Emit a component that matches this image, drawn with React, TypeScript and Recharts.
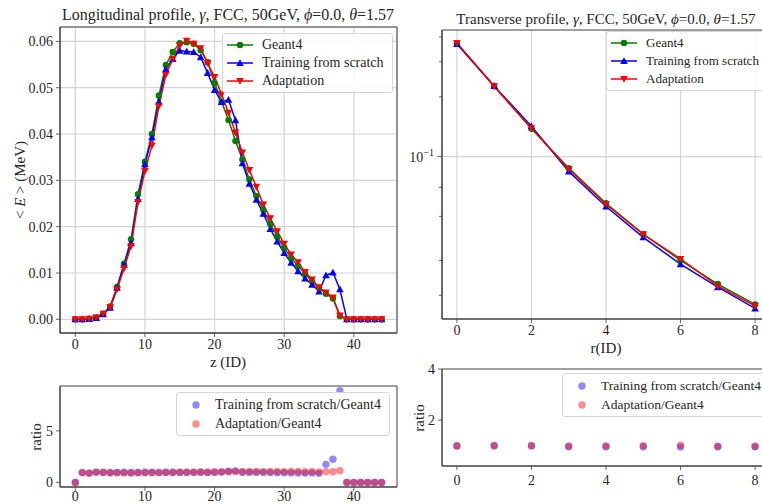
import React from 'react';
import { ComposedChart, Line, Scatter, XAxis, YAxis, CartesianGrid, Legend, ReferenceArea, ReferenceLine } from 'recharts';

const FONT = '"Liberation Serif", "DejaVu Serif", serif';
const INK = '#262626';
const SPINE = '#404040';
const GRID = '#d4d4d4';

// longitudinal profile, z bins 0..44
const zBins = Array.from({ length: 45 }, (_, i) => i);
const g4Long = [0, 0, 0.0001, 0.0004, 0.0012, 0.0028, 0.007, 0.012, 0.0173, 0.027, 0.034, 0.04, 0.0483, 0.0549, 0.0577, 0.0596, 0.0598, 0.0595, 0.0581, 0.0555, 0.051, 0.047, 0.043, 0.0385, 0.0345, 0.0302, 0.0266, 0.0236, 0.0206, 0.0179, 0.0155, 0.0132, 0.0115, 0.0098, 0.0082, 0.0068, 0.0055, 0.0045, 0.0007, 0, 0, 0, 0, 0, 0];
const scratchLong = [0, 0, 0.0001, 0.0003, 0.0011, 0.0025, 0.0068, 0.0118, 0.0165, 0.026, 0.0335, 0.0393, 0.047, 0.054, 0.0562, 0.058, 0.0578, 0.0577, 0.0566, 0.0532, 0.0495, 0.0469, 0.0474, 0.043, 0.0337, 0.0293, 0.0258, 0.0228, 0.0195, 0.0168, 0.0143, 0.0122, 0.0104, 0.0088, 0.0075, 0.006, 0.0095, 0.0101, 0.0065, 0, 0, 0, 0, 0, 0];
const adaptLong = [0, 0, 0.0001, 0.0004, 0.0012, 0.0026, 0.0065, 0.011, 0.0158, 0.0253, 0.032, 0.0375, 0.046, 0.0528, 0.0562, 0.0591, 0.0601, 0.0595, 0.0585, 0.0553, 0.0523, 0.0486, 0.0446, 0.0403, 0.036, 0.0322, 0.0286, 0.0248, 0.0218, 0.019, 0.0163, 0.014, 0.0123, 0.0102, 0.0086, 0.0069, 0.0058, 0.0047, 0.0008, 0, 0, 0, 0, 0, 0];
const scratchLongRatio = [0, 0.95, 0.9, 1.0, 0.97, 0.95, 0.97, 0.98, 0.96, 0.97, 0.98, 0.98, 0.97, 0.98, 0.98, 0.97, 0.97, 0.97, 0.98, 0.96, 0.97, 1.0, 1.08, 1.12, 0.98, 0.97, 0.97, 0.97, 0.95, 0.94, 0.93, 0.92, 0.91, 0.9, 0.92, 0.88, 1.75, 2.25, 8.9, 0, 0, 0, 0, 0, 0];
const adaptLongRatio = [0, 0.95, 0.9, 1.0, 1.0, 0.93, 0.93, 0.92, 0.91, 0.94, 0.94, 0.94, 0.95, 0.96, 0.97, 0.99, 1.0, 1.0, 1.01, 1.0, 1.03, 1.03, 1.04, 1.05, 1.04, 1.07, 1.07, 1.05, 1.06, 1.06, 1.05, 1.06, 1.07, 1.04, 1.05, 1.01, 1.05, 1.04, 1.14, 0, 0, 0, 0, 0, 0];

// transverse profile, r bins 0..8
const rBins = [0, 1, 2, 3, 4, 5, 6, 7, 8];
const g4Trans = [0.372, 0.226, 0.138, 0.0875, 0.0582, 0.0407, 0.03, 0.0228, 0.018];
const scratchTrans = [0.369, 0.227, 0.142, 0.0842, 0.056, 0.0392, 0.0287, 0.022, 0.0172];
const adaptTrans = [0.373, 0.226, 0.139, 0.0866, 0.0575, 0.0406, 0.0305, 0.0223, 0.0177];
const scratchTransRatio = [0.99, 1.0, 1.0, 0.96, 0.96, 0.96, 0.95, 0.96, 0.96];
const adaptTransRatio = [1.0, 1.0, 1.0, 0.99, 0.99, 1.0, 1.02, 0.98, 0.98];

const zTicks = [0, 10, 20, 30, 40];
const eTicks = [0, 0.01, 0.02, 0.03, 0.04, 0.05, 0.06];
const zRatioTicks = [0, 5];
const rTicks = [0, 2, 4, 6, 8];
const logTicks = [0.02, 0.03, 0.04, 0.05, 0.06, 0.07, 0.08, 0.09, 0.1, 0.2, 0.3, 0.4];
const rRatioTicks = [2, 4];

const longData = zBins.map((z, i) => ({
  z, g4: g4Long[i], scratch: scratchLong[i], adapt: adaptLong[i],
  scratchRatio: scratchLongRatio[i], adaptRatio: adaptLongRatio[i],
}));
const transData = rBins.map((r, i) => ({
  r, g4: g4Trans[i], scratch: scratchTrans[i], adapt: adaptTrans[i],
  scratchRatio: scratchTransRatio[i], adaptRatio: adaptTransRatio[i],
}));

type Kind = 'circle' | 'up' | 'down';
const kinds: Record<string, Kind> = { g4: 'circle', scratch: 'up', adapt: 'down' };
// legend rows keep the plotting order
const legendOrder = ['g4', 'scratch', 'adapt', 'scratchRatio', 'adaptRatio'];
const ordered = (payload: any[] = []) =>
  [...payload].sort((a, b) => legendOrder.indexOf(a.dataKey) - legendOrder.indexOf(b.dataKey));

const shape = (kind: Kind, cx: number, cy: number, color: string, key?: any) => {
  if (kind === 'circle') return <circle key={key} cx={cx} cy={cy} r={3.2} fill={color} />;
  const s = 3.8;
  const pts = kind === 'up'
    ? `${cx},${cy - s} ${cx - s},${cy + s * 0.8} ${cx + s},${cy + s * 0.8}`
    : `${cx},${cy + s} ${cx - s},${cy - s * 0.8} ${cx + s},${cy - s * 0.8}`;
  return <polygon key={key} points={pts} fill={color} />;
};

const marker = (kind: Kind, color: string) => (props: any) => {
  const { cx, cy, index } = props;
  if (cx == null || cy == null) return <g key={index} />;
  return shape(kind, cx, cy, color, index);
};

const dotShape = (color: string) => (props: any) =>
  <circle cx={props.cx} cy={props.cy} r={3.7} fill={color} fillOpacity={0.45} />;

const boxStyle = (size: number): React.CSSProperties => ({
  border: '1px solid #d6d6d6', borderRadius: 3, background: 'rgba(255,255,255,0.85)',
  fontFamily: FONT, fontSize: size, color: INK, whiteSpace: 'nowrap',
});

const LineLegend = ({ payload, size = 14 }: any) => (
  <div style={{ ...boxStyle(size), padding: '2px 8px 2px 4px' }}>
    {ordered(payload).map((p: any) => (
      <div key={p.value} style={{ display: 'flex', alignItems: 'center', height: 18 }}>
        <svg width={26} height={10}>
          <line x1={0} x2={26} y1={5} y2={5} stroke={p.color} strokeWidth={1.5} />
          {shape(kinds[p.dataKey], 13, 5, p.color)}
        </svg>
        <span style={{ marginLeft: 9 }}>{p.value}</span>
      </div>
    ))}
  </div>
);

const DotLegend = ({ payload, size = 14 }: any) => (
  <div style={{ ...boxStyle(size), padding: '2px 8px 2px 14px' }}>
    {ordered(payload).map((p: any) => (
      <div key={p.value} style={{ display: 'flex', alignItems: 'center', height: 19 }}>
        <svg width={10} height={10}>
          <circle cx={5} cy={5} r={3.7} fill={p.color} fillOpacity={0.45} />
        </svg>
        <span style={{ marginLeft: 14 }}>{p.value}</span>
      </div>
    ))}
  </div>
);

const LogTick = (props: any) => {
  const { x, y, payload } = props;
  const major = payload.value === 0.1;
  return (
    <g>
      <line x1={x} x2={x - (major ? 5 : 3)} y1={y} y2={y} stroke={SPINE} strokeWidth={0.8} />
      {major && (
        <text x={x - 8} y={y + 5} textAnchor="end" fontFamily={FONT} fontSize={14} fill={INK}>
          10<tspan dy={-6} fontSize={10}>−1</tspan>
        </text>
      )}
    </g>
  );
};

const tickStyle = { fontFamily: FONT, fontSize: 14, fill: INK };
const axisLine = { stroke: SPINE, strokeWidth: 1 };
const tickLine = { stroke: SPINE, strokeWidth: 0.8 };

const abs = (left: number, top: number): React.CSSProperties => ({ position: 'absolute', left, top });
const text = (left: number, top: number, size: number): React.CSSProperties => ({
  position: 'absolute', left, top, fontFamily: FONT, fontSize: size, lineHeight: 1, color: INK, whiteSpace: 'nowrap',
  transform: 'translateX(-50%)',
});
const vtext = (cx: number, cy: number, size: number): React.CSSProperties => ({
  position: 'absolute', left: cx, top: cy, fontFamily: FONT, fontSize: size, lineHeight: 1, color: INK, whiteSpace: 'nowrap',
  transform: 'translate(-50%, -50%) rotate(-90deg)',
});

const LZ: [number, number] = [-2.2, 46.2];
const LE: [number, number] = [-0.00295, 0.0631];
const LR: [number, number] = [-0.445, 9.345];
const TR: [number, number] = [-0.4, 8.4];
const TE: [number, number] = [0.0152, 0.434];
const TQ: [number, number] = [0.21, 4];

export default function App() {
  return (
    <div style={{ position: 'fixed', left: 0, top: 0, width: 762, height: 504, overflow: 'hidden', background: '#fff' }}>
      {/* longitudinal profile */}
      <div style={abs(0, 0)}>
        <ComposedChart width={400} height={370} data={longData} margin={{ top: 27, right: 3, left: 0, bottom: 0 }}>
          <CartesianGrid stroke={GRID} strokeWidth={1.2} />
          <XAxis dataKey="z" type="number" domain={LZ} ticks={zTicks} allowDataOverflow height={37}
            tick={tickStyle} axisLine={axisLine} tickLine={tickLine} tickSize={4} tickMargin={2} />
          <YAxis type="number" domain={LE} ticks={eTicks} allowDataOverflow width={60}
            tickFormatter={(v: number) => v.toFixed(2)}
            tick={tickStyle} axisLine={axisLine} tickLine={tickLine} tickSize={4} tickMargin={3} />
          <ReferenceArea x1={LZ[0]} x2={LZ[1]} y1={LE[0]} y2={LE[1]} fill="none" stroke={SPINE} ifOverflow="visible" />
          <Line type="linear" dataKey="g4" name="Geant4" stroke="#008000" strokeWidth={1.5}
            dot={marker('circle', '#008000')} activeDot={false} isAnimationActive={false} />
          <Line type="linear" dataKey="scratch" name="Training from scratch" stroke="#0000ff" strokeWidth={1.5}
            dot={marker('up', '#0000ff')} activeDot={false} isAnimationActive={false} />
          <Line type="linear" dataKey="adapt" name="Adaptation" stroke="#ff0000" strokeWidth={1.5}
            dot={marker('down', '#ff0000')} activeDot={false} isAnimationActive={false} />
          <Legend layout="vertical" align="center" verticalAlign="middle" content={<LineLegend size={14} />}
            wrapperStyle={{ left: 222, top: 33, width: 'auto', height: 'auto' }} />
        </ComposedChart>
      </div>

      {/* longitudinal ratio */}
      <div style={abs(0, 360)}>
        <ComposedChart width={400} height={144} data={longData} margin={{ top: 26, right: 3, left: 0, bottom: 0 }}>
          <XAxis dataKey="z" type="number" domain={LZ} ticks={zTicks} allowDataOverflow height={17}
            tick={tickStyle} axisLine={axisLine} tickLine={tickLine} tickSize={4} tickMargin={0} />
          <YAxis type="number" domain={LR} ticks={zRatioTicks} allowDataOverflow width={60}
            tick={tickStyle} axisLine={axisLine} tickLine={tickLine} tickSize={4} tickMargin={3} />
          <ReferenceArea x1={LZ[0]} x2={LZ[1]} y1={LR[0]} y2={LR[1]} fill="none" stroke={SPINE} ifOverflow="visible" />
          <Scatter dataKey="scratchRatio" name="Training from scratch/Geant4" fill="#0000ff"
            shape={dotShape('#0000ff')} isAnimationActive={false} />
          <Scatter dataKey="adaptRatio" name="Adaptation/Geant4" fill="#ff0000"
            shape={dotShape('#ff0000')} isAnimationActive={false} />
          <Legend layout="vertical" align="center" verticalAlign="middle" content={<DotLegend size={14} />}
            wrapperStyle={{ left: 176, top: 32, width: 'auto', height: 'auto' }} />
        </ComposedChart>
      </div>

      {/* transverse profile */}
      <div style={abs(400, 0)}>
        <ComposedChart width={370} height={360} data={transData} margin={{ top: 30, right: 0, left: 0, bottom: 0 }}>
          <CartesianGrid stroke={GRID} strokeWidth={1.2} horizontal={false} />
          <ReferenceLine y={0.1} stroke={GRID} strokeWidth={1.2} />
          <XAxis dataKey="r" type="number" domain={TR} ticks={rTicks} allowDataOverflow height={41}
            tick={tickStyle} axisLine={axisLine} tickLine={tickLine} tickSize={4} tickMargin={2} />
          <YAxis type="number" scale="log" domain={TE} ticks={logTicks} allowDataOverflow width={42}
            tick={<LogTick />} axisLine={axisLine} tickLine={false} tickSize={0} tickMargin={0} />
          <ReferenceArea x1={TR[0]} x2={TR[1]} y1={TE[0]} y2={TE[1]} fill="none" stroke={SPINE} ifOverflow="visible" />
          <Line type="linear" dataKey="g4" name="Geant4" stroke="#008000" strokeWidth={1.5}
            dot={marker('circle', '#008000')} activeDot={false} isAnimationActive={false} />
          <Line type="linear" dataKey="scratch" name="Training from scratch" stroke="#0000ff" strokeWidth={1.5}
            dot={marker('up', '#0000ff')} activeDot={false} isAnimationActive={false} />
          <Line type="linear" dataKey="adapt" name="Adaptation" stroke="#ff0000" strokeWidth={1.5}
            dot={marker('down', '#ff0000')} activeDot={false} isAnimationActive={false} />
          <Legend layout="vertical" align="center" verticalAlign="middle" content={<LineLegend size={13} />}
            wrapperStyle={{ left: 206, top: 31, width: 'auto', height: 'auto' }} />
        </ComposedChart>
      </div>

      {/* transverse ratio */}
      <div style={abs(400, 360)}>
        <ComposedChart width={370} height={144} data={transData} margin={{ top: 9, right: 0, left: 0, bottom: 0 }}>
          <XAxis dataKey="r" type="number" domain={TR} ticks={rTicks} allowDataOverflow height={38}
            tick={tickStyle} axisLine={axisLine} tickLine={tickLine} tickSize={4} tickMargin={5} />
          <YAxis type="number" domain={TQ} ticks={rRatioTicks} allowDataOverflow width={42}
            tick={tickStyle} axisLine={axisLine} tickLine={tickLine} tickSize={4} tickMargin={3} />
          <ReferenceArea x1={TR[0]} x2={TR[1]} y1={TQ[0]} y2={TQ[1]} fill="none" stroke={SPINE} ifOverflow="visible" />
          <Scatter dataKey="scratchRatio" name="Training from scratch/Geant4" fill="#0000ff"
            shape={dotShape('#0000ff')} isAnimationActive={false} />
          <Scatter dataKey="adaptRatio" name="Adaptation/Geant4" fill="#ff0000"
            shape={dotShape('#ff0000')} isAnimationActive={false} />
          <Legend layout="vertical" align="center" verticalAlign="middle" content={<DotLegend size={13.5} />}
            wrapperStyle={{ left: 162, top: 13, width: 'auto', height: 'auto' }} />
        </ComposedChart>
      </div>

      {/* titles and axis labels */}
      <div style={text(228, 7, 16)}>
        Longitudinal profile, <i>γ</i>, FCC, 50GeV, <i>ϕ</i>=0.0, <i>θ</i>=1.57
      </div>
      <div style={text(606, 12, 15)}>
        Transverse profile, <i>γ</i>, FCC, 50GeV, <i>ϕ</i>=0.0, <i>θ</i>=1.57
      </div>
      <div style={text(228, 355, 15)}>z (ID)</div>
      <div style={text(606, 341, 15)}>r(ID)</div>
      <div style={vtext(20, 180, 15)}>&lt; <i>E</i> &gt; (MeV)</div>
      <div style={vtext(36, 437, 15)}>ratio</div>
      <div style={vtext(419, 418, 15)}>ratio</div>
    </div>
  );
}
